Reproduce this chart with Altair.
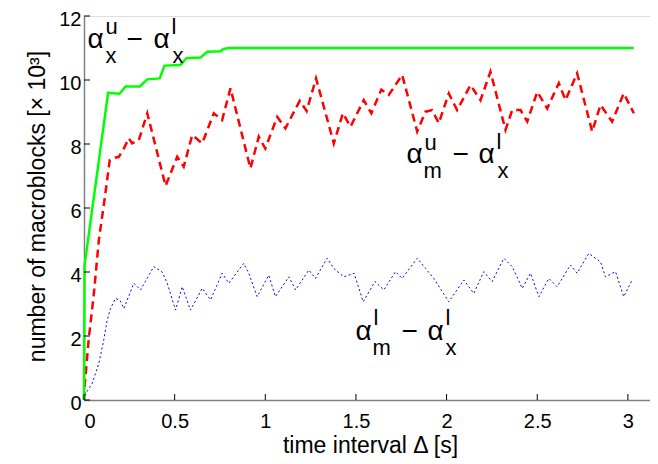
import altair as alt
import pandas as pd

# ---------------- data ----------------
green_t = [0, 0.003, 0.133, 0.196, 0.229, 0.308, 0.349, 0.418, 0.444, 0.532,
           0.565, 0.643, 0.68, 0.753, 0.77, 0.8, 3.033]
green_v = [0, 4.2, 9.6, 9.57, 9.8, 9.8, 10.02, 10.05, 10.45, 10.47,
           10.68, 10.7, 10.88, 10.9, 10.97, 11.0, 11.0]

red_t = [0, 0.003, 0.026, 0.054, 0.082, 0.113, 0.142, 0.156, 0.192, 0.22, 0.247,
         0.266, 0.302, 0.349, 0.45, 0.514, 0.55, 0.597, 0.652, 0.716, 0.762,
         0.808, 0.918, 0.964, 1.0, 1.066, 1.111, 1.19, 1.228, 1.28, 1.378,
         1.428, 1.47, 1.543, 1.585, 1.64, 1.681, 1.755, 1.838, 1.884, 1.92,
         1.957, 2.012, 2.058, 2.132, 2.187, 2.242, 2.325, 2.362, 2.408, 2.445,
         2.5, 2.555, 2.619, 2.656, 2.72, 2.803, 2.849, 2.913, 2.977, 3.033]
red_v = [0, 0.4, 1.9, 3.3, 5.0, 6.25, 7.5, 7.55, 7.6, 7.86, 8.18,
         8.02, 8.12, 8.96, 6.69, 7.6, 7.29, 8.28, 8.02, 8.96, 8.75,
         9.74, 7.24, 8.23, 7.86, 8.85, 8.49, 9.35, 9.03, 10.05, 8.02,
         8.96, 8.54, 9.37, 8.96, 9.7, 9.53, 10.16, 8.39, 9.01, 9.06,
         8.65, 9.58, 9.06, 9.84, 9.37, 10.26, 8.44, 9.06, 9.06, 8.7,
         9.63, 9.11, 9.9, 9.37, 10.21, 8.39, 9.22, 8.7, 9.58, 8.96]

blue_t = [0, 0.01, 0.045, 0.082, 0.109, 0.128, 0.146, 0.174, 0.2, 0.22, 0.275,
          0.312, 0.385, 0.431, 0.459, 0.505, 0.542, 0.587, 0.652, 0.698, 0.762,
          0.799, 0.881, 0.909, 0.955, 1.019, 1.056, 1.13, 1.167, 1.24, 1.277,
          1.341, 1.378, 1.433, 1.49, 1.54, 1.605, 1.654, 1.718, 1.755, 1.838,
          1.884, 1.929, 2.012, 2.095, 2.15, 2.205, 2.251, 2.316, 2.362, 2.417,
          2.463, 2.509, 2.564, 2.61, 2.683, 2.72, 2.784, 2.849, 2.876, 2.932,
          2.977, 3.024]
blue_v = [0, 0.2, 0.52, 1.15, 1.88, 2.5, 2.86, 3.18, 3.1, 2.86, 3.65,
          3.44, 4.17, 4.0, 3.65, 2.81, 3.54, 2.81, 3.49, 3.13, 3.96,
          3.65, 4.27, 3.96, 3.23, 3.9, 3.23, 3.85, 3.44, 4.06, 3.8,
          4.43, 4.11, 3.85, 3.96, 3.07, 3.7, 3.44, 4.01, 3.8, 4.43,
          4.11, 3.8, 3.07, 3.75, 3.33, 4.01, 3.7, 4.43, 4.17, 3.49,
          3.96, 3.23, 3.8, 3.54, 4.22, 3.96, 4.58, 4.32, 3.85, 4.01,
          3.23, 3.75]

x_ticks = [0, 0.5, 1, 1.5, 2, 2.5, 3]
y_ticks = [0, 2, 4, 6, 8, 10, 12]

# label anchors (data coords) and pieces: (text, dx, dy, font size)
label_anchors = [(0.019, 11.0), (1.779, 7.41), (1.497, 1.875)]
label_pieces = [
    [("α", 0, 0, 28), ("u", 18, -14, 22), ("x", 18, 15, 22), ("−", 39, 0, 28),
     ("α", 66, 0, 28), ("l", 84, -14, 22), ("x", 85, 15, 22)],
    [("α", 0, 0, 28), ("u", 18, -13, 22), ("m", 17, 15, 22), ("−", 46, 0, 28),
     ("α", 72, 0, 28), ("l", 90, -14, 22), ("x", 91, 15, 22)],
    [("α", 0, 0, 28), ("l", 18, -15, 22), ("m", 17, 15, 22), ("−", 46, 0, 28),
     ("α", 72, 0, 28), ("l", 90, -15, 22), ("x", 90, 15, 22)],
]

FONT = "Liberation Sans"
W, H = 566, 384
XMAX = 3.122

xs = alt.Scale(domain=[0, XMAX], nice=False, zero=False)
ys = alt.Scale(domain=[0, 12], nice=False)

xaxis = alt.Axis(values=x_ticks, format="~g", ticks=False, grid=False,
                 labelFontSize=20, labelPadding=11, labelColor="black",
                 labelFont=FONT, domainColor="#808080", domainWidth=1.5,
                 title="time interval Δ [s]", titleFontSize=23,
                 titleFontWeight="normal", titleFont=FONT, titleColor="black",
                 titleBaseline="alphabetic", titleY=52, titleX=286)
yaxis = alt.Axis(values=y_ticks, format="~g", ticks=False, grid=False,
                 labelFontSize=20, labelPadding=3, labelOffset=3,
                 labelColor="black",
                 labelFont=FONT, domainColor="#808080", domainWidth=1.5,
                 title="number of macroblocks [× 10³]", titleFontSize=23,
                 titleFontWeight="normal", titleFont=FONT, titleColor="black",
                 titleAngle=270, titleAlign="center", titleBaseline="alphabetic",
                 titleX=-40, titleY=190)


def line_df(t, v):
    return pd.DataFrame({"t": t, "v": v, "i": range(len(t))})


base_x = alt.X("t:Q", scale=xs, axis=xaxis)
base_y = alt.Y("v:Q", scale=ys, axis=yaxis)

blue = alt.Chart(line_df(blue_t, blue_v)).mark_line(
    color="#0000ff", strokeWidth=1, strokeDash=[2, 2.5]
).encode(x=base_x, y=base_y, order="i:Q")

red = alt.Chart(line_df(red_t, red_v)).mark_line(
    color="#ff0000", strokeWidth=2.5, strokeDash=[8, 5]
).encode(x=alt.X("t:Q", scale=xs), y=alt.Y("v:Q", scale=ys), order="i:Q")

green = alt.Chart(line_df(green_t, green_v)).mark_line(
    color="#00ff00", strokeWidth=2.5
).encode(x=alt.X("t:Q", scale=xs), y=alt.Y("v:Q", scale=ys), order="i:Q")

xt = alt.Chart(pd.DataFrame({"t": x_ticks})).mark_rule(
    color="black", strokeWidth=1
).encode(x=alt.X("t:Q", scale=xs), y=alt.value(H), y2=alt.value(H - 6))

yt = alt.Chart(pd.DataFrame({"v": y_ticks})).mark_rule(
    color="black", strokeWidth=1
).encode(y=alt.Y("v:Q", scale=ys), x=alt.value(0), x2=alt.value(6))

texts = []
for (ax, ay), pieces in zip(label_anchors, label_pieces):
    adf = pd.DataFrame({"t": [ax], "v": [ay]})
    for txt, dx, dy, size in pieces:
        texts.append(
            alt.Chart(adf).mark_text(
                text=txt, dx=dx, dy=dy, fontSize=size, font=FONT,
                align="left", baseline="alphabetic", color="black"
            ).encode(x=alt.X("t:Q", scale=xs), y=alt.Y("v:Q", scale=ys))
        )

chart = alt.layer(blue, red, green, xt, yt, *texts).properties(
    width=W, height=H,
    autosize="none",
    padding={"left": 76, "top": 8, "right": 0, "bottom": 60},
).configure_view(stroke=None).configure(background="white")

chart.save("out.html", embed_options={"renderer": "svg", "actions": False})
